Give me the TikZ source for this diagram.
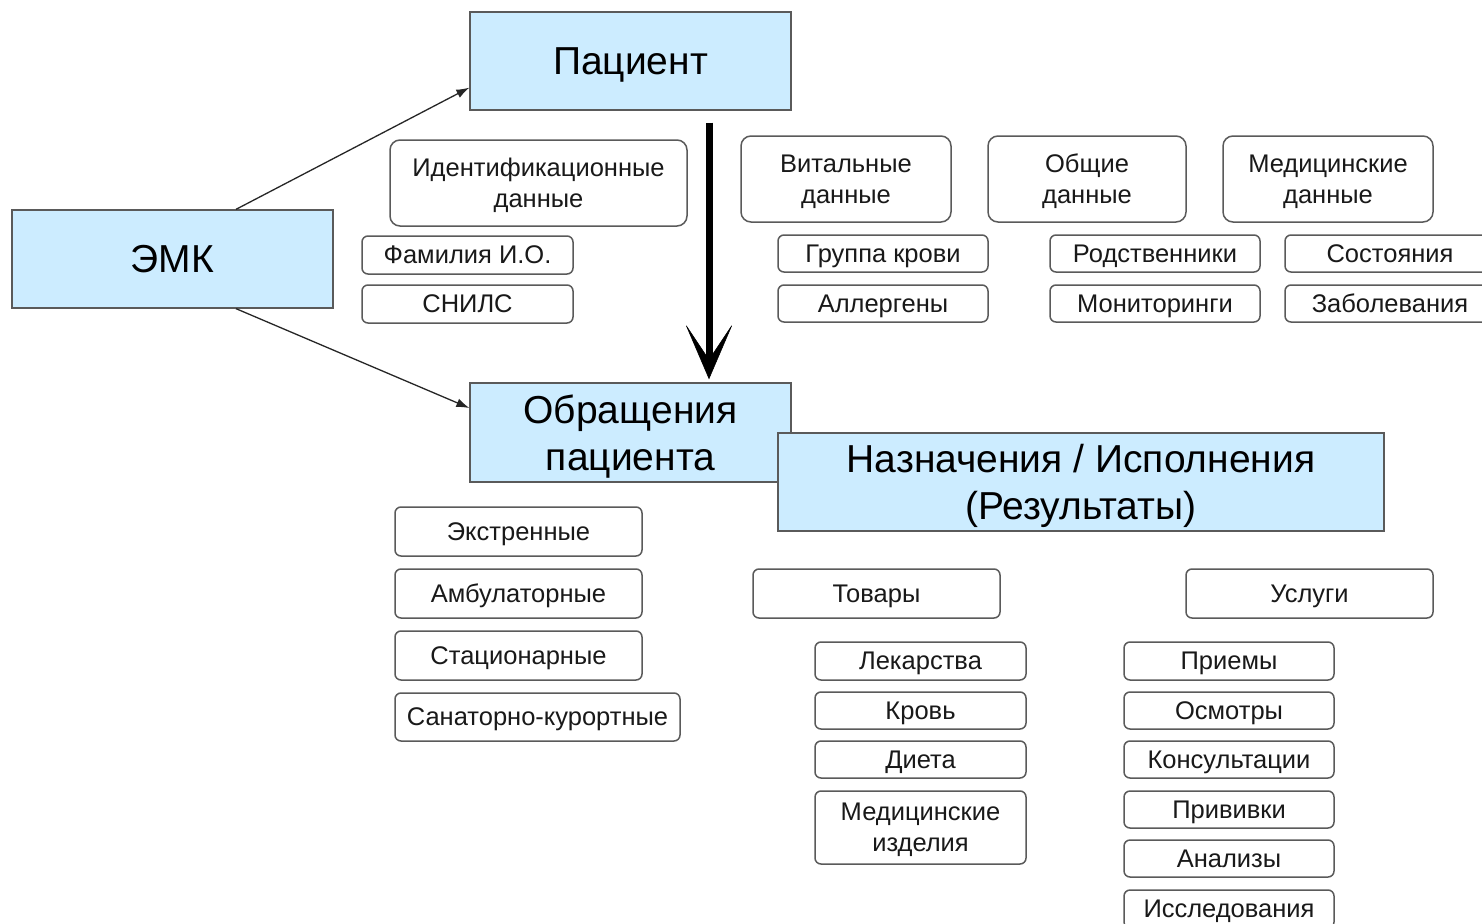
\documentclass[tikz,border=0pt]{standalone}
\usepackage{fontspec}
\setmainfont{Liberation Sans}
\usetikzlibrary{arrows.meta,calc}
\definecolor{boxblue}{RGB}{204,236,255}
\definecolor{edgegray}{RGB}{90,90,90}
\tikzset{
  bluebox/.style={draw=edgegray, line width=1.3pt, fill=boxblue, inner sep=0pt, align=center,
    font=\fontsize{39}{47}\selectfont, text=black, text depth=0pt},
  rbox/.style={draw=edgegray, line width=1.5pt, fill=white, rounded corners=10pt, inner sep=0pt,
    align=center, font=\fontsize{25.5}{31}\selectfont, text=black!90, text depth=0pt},
  sbox/.style={rbox, rounded corners=6pt},
  thinarrow/.style={draw=black!85, line width=1.3pt, -{Latex[length=13pt,width=9pt]}},
  bigarrow/.style={draw=black, line width=7pt, -{Stealth[length=56pt,width=48pt,inset=36pt,line width=0.5pt]}}
}
\begin{document}
\begin{tikzpicture}[x=1pt,y=-1pt]
\clip (0,0) rectangle (1482,923);
\fill[white] (0,0) rectangle (1482,923);

% blue boxes
\node[bluebox, minimum width=321pt, minimum height=98pt] (pat) at (630.5,61) {Пациент};
\node[bluebox, minimum width=321pt, minimum height=98pt] (emk) at (172.5,259) {ЭМК};
\node[bluebox, minimum width=321pt, minimum height=99pt] (obr) at (630.5,432.5) {Обращения\\пациента};
\node[bluebox, minimum width=606pt, minimum height=98pt] (naz) at (1081,482) {Назначения / Исполнения\\(Результаты)};

% patient data
\node[rbox, minimum width=297pt, minimum height=86pt] (idd) at (538.5,183) {Идентификационные\\данные};
\node[sbox, minimum width=211pt, minimum height=38pt] (fam) at (467.5,255) {Фамилия И.О.};
\node[sbox, minimum width=211pt, minimum height=38pt] (snils) at (467.5,304) {СНИЛС};

\node[rbox, minimum width=210pt, minimum height=86pt] (vit) at (846,179) {Витальные\\данные};
\node[rbox, minimum width=198pt, minimum height=86pt] (obsh) at (1087,179) {Общие\\данные};
\node[rbox, minimum width=210pt, minimum height=86pt] (med) at (1328,179) {Медицинские\\данные};

\node[sbox, minimum width=210pt, minimum height=37pt] (grp) at (883,253.5) {Группа крови};
\node[sbox, minimum width=210pt, minimum height=37pt] (allg) at (883,303.5) {Аллергены};
\node[sbox, minimum width=210pt, minimum height=37pt] (rod) at (1155,253.5) {Родственники};
\node[sbox, minimum width=210pt, minimum height=37pt] (mon) at (1155,303.5) {Мониторинги};
\node[sbox, minimum width=210pt, minimum height=37pt] (sost) at (1390,253.5) {Состояния};
\node[sbox, minimum width=210pt, minimum height=37pt] (zab) at (1390,303.5) {Заболевания};

% visits
\node[sbox, minimum width=247pt, minimum height=49pt] (ekst) at (518.5,531.5) {Экстренные};
\node[sbox, minimum width=247pt, minimum height=49pt] (amb) at (518.5,593.5) {Амбулаторные};
\node[sbox, minimum width=247pt, minimum height=49pt] (stac) at (518.5,655.5) {Стационарные};
\node[sbox, minimum width=285pt, minimum height=48pt] (san) at (537.5,717) {Санаторно-курортные};

% prescriptions
\node[sbox, minimum width=247pt, minimum height=49pt] (tov) at (876.5,593.5) {Товары};
\node[sbox, minimum width=247pt, minimum height=49pt] (usl) at (1309.5,593.5) {Услуги};

\node[sbox, minimum width=211pt, minimum height=38pt] (lek) at (920.5,661) {Лекарства};
\node[sbox, minimum width=211pt, minimum height=37pt] (krov) at (920.5,710.5) {Кровь};
\node[sbox, minimum width=211pt, minimum height=37pt] (diet) at (920.5,759.5) {Диета};
\node[sbox, minimum width=211pt, minimum height=73pt] (mi) at (920.5,827.5) {Медицинские\\изделия};

\node[sbox, minimum width=210pt, minimum height=38pt] (pri) at (1229,661) {Приемы};
\node[sbox, minimum width=210pt, minimum height=37pt] (osm) at (1229,710.5) {Осмотры};
\node[sbox, minimum width=210pt, minimum height=37pt] (kons) at (1229,759.5) {Консультации};
\node[sbox, minimum width=210pt, minimum height=37pt] (priv) at (1229,809.5) {Прививки};
\node[sbox, minimum width=210pt, minimum height=37pt] (anal) at (1229,858.5) {Анализы};
\node[sbox, minimum width=210pt, minimum height=38pt] (issl) at (1229,909) {Исследования};

% connectors
\draw[thinarrow] ($(emk.north)+(63.5,0)$) -- ($(pat.south west)+(0,-23)$);
\draw[thinarrow] ($(emk.south)+(63.5,0)$) -- ($(obr.west)+(0,-24.5)$);
\draw[bigarrow] ($(pat.south)+(78.5,12)$) -- ($(obr.north)+(78.5,-3)$);
\end{tikzpicture}
\end{document}
